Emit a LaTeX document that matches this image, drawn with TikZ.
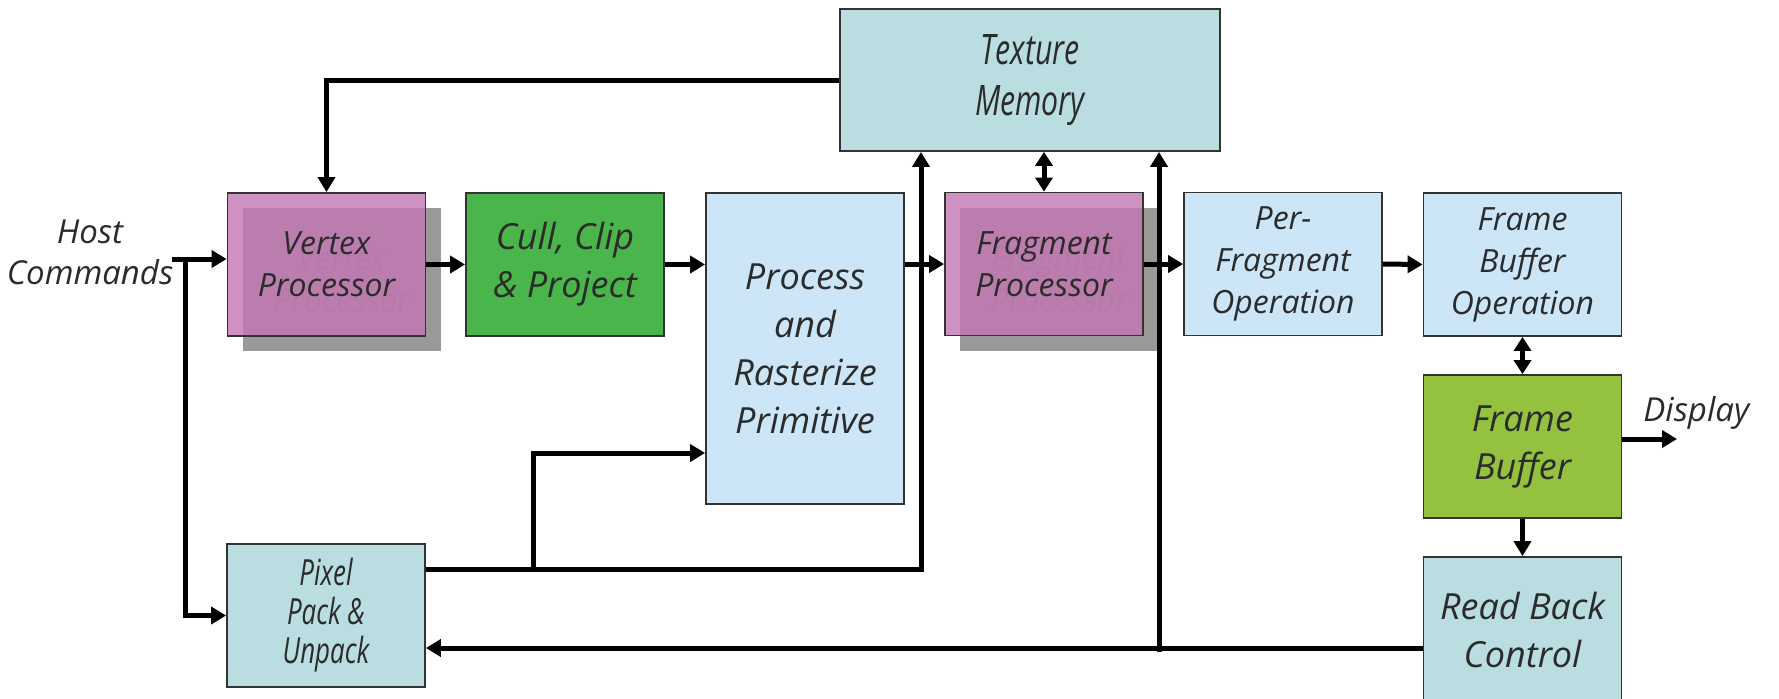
\documentclass[tikz,border=0pt]{standalone}
\usepackage{fontspec}
\usetikzlibrary{arrows.meta,calc}
\newfontfamily\hand{Open Sans}
\newfontfamily\handnarrow{Open Sans}[FakeStretch=0.72]
\definecolor{boxline}{HTML}{333333}
\definecolor{txt}{HTML}{2B2B2B}
\definecolor{pinkfill}{RGB}{195,118,178}
\definecolor{shadowgray}{RGB}{153,153,153}
\definecolor{ghosttxt}{RGB}{136,136,136}
\definecolor{cullgreen}{RGB}{74,181,74}
\definecolor{limegreen}{RGB}{148,194,62}
\definecolor{paleblue}{RGB}{204,230,247}
\definecolor{paleteal}{RGB}{186,221,226}
\tikzset{
  box/.style={draw=boxline, line width=0.9pt, minimum width=99pt,
    minimum height=71.5pt, inner sep=0pt, align=center, text=txt,
    font=\hand\itshape\fontsize{16}{21}\selectfont},
  bigtxt/.style={font=\hand\itshape\fontsize{18}{24}\selectfont},
  tealtxt/.style={font=\handnarrow\itshape\fontsize{21}{25.5}\selectfont},
  smalltealtxt/.style={font=\handnarrow\itshape\fontsize{18}{19.5}\selectfont},
  pinkbox/.style={box, fill=pinkfill, fill opacity=0.8, text opacity=1},
  shadowbox/.style={minimum width=99pt, minimum height=71.5pt, inner sep=0pt,
    align=center, fill=shadowgray, text=ghosttxt,
    font=\hand\itshape\fontsize{16}{21}\selectfont},
  greenbox/.style={box, bigtxt, fill=cullgreen},
  limebox/.style={box, bigtxt, fill=limegreen},
  bluebox/.style={box, fill=paleblue},
  tealbox/.style={box, fill=paleteal},
  label/.style={text=txt, align=center, inner sep=0pt,
    font=\hand\itshape\fontsize{16.5}{20.5}\selectfont},
  arr/.style={line width=2.5pt, -{Triangle[length=7.5pt,width=8.5pt]}},
  dblarr/.style={line width=2.5pt, {Triangle[length=7pt,width=8.5pt]}-{Triangle[length=7pt,width=8.5pt]}},
  plain/.style={line width=2.5pt}
}
\begin{document}
\begin{tikzpicture}[x=0.5pt,y=-0.5pt]
\useasboundingbox (0,0) rectangle (1779,698);

% drop shadows of the two programmable stages
\node[shadowbox] (vshadow) at (341.5,279.5) {Vertex\\Processor};
\node[shadowbox] (fshadow) at (1059,279) {Fragment\\Processor};

% pipeline stages
\node[pinkbox] (vertex) at (326.5,264.5) {Vertex\\Processor};
\node[greenbox] (cull) at (565,264.5) {Cull, Clip\\\& Project};
\node[bluebox, bigtxt, minimum height=155.5pt] (raster) at (805,348.5)
  {Process\\and\\Rasterize\\Primitive};
\node[pinkbox] (frag) at (1044,264) {Fragment\\Processor};
\node[bluebox] (perfrag) at (1283,264) {Per-\\Fragment\\Operation};
\node[bluebox] (fbop) at (1522.5,264.5) {Frame\\Buffer\\Operation};
\node[limebox] (fb) at (1522.5,446.5) {Frame\\Buffer};
\node[tealbox, bigtxt, minimum height=72.5pt] (readback) at (1522.5,629.5)
  {Read Back\\Control};
\node[tealbox, tealtxt, minimum width=190pt, minimum height=71pt] (tex)
  at (1030,80) {Texture\\Memory};
\node[tealbox, smalltealtxt] (pixel) at (326,615.5) {Pixel\\Pack \&\\Unpack};

% free labels
\node[label] (host) at (90,252) {Host\\Commands};
\node[label, anchor=west] (disp) at (1643,413) {Display};

% connection points
\coordinate (hc) at (172,259);
\coordinate (hbus) at (185,259);
\coordinate (dispend) at (1677,439);
\coordinate (pbranch) at (533,569);
\coordinate (pbus) at (921,569);
\coordinate (rbus) at (1159,652);

% main flow
\draw[arr] (hc) -- (vertex.west |- hc);
\draw[plain] (hbus) -- (hbus |- pixel.west);
\draw[arr] ($(hbus |- pixel.west)+(-2.5,0)$) -- (pixel.west);
\draw[arr] (tex.west) -| (vertex.north);
\draw[arr] (vertex.east) -- (cull.west);
\draw[arr] (cull.east) -- (raster.west |- cull.east);
\draw[arr] (raster.east |- frag.west) -- (frag.west);
\draw[arr] (frag.east) -- (perfrag.west);
\draw[arr] (perfrag.east) -- (fbop.west);
\draw[dblarr] (fbop.south) -- (fb.north);
\draw[dblarr] (frag.north) -- (frag.north |- tex.south);
\draw[arr] (fb.east |- dispend) -- (dispend);
\draw[arr] (fb.south) -- (readback.north);

% pixel paths
\draw[arr] (readback.west |- 0,648) -- (pixel.east |- 0,648);
\draw[arr] (pixel.east |- pbus) -- (pbus) -- (pbus |- tex.south);
\draw[arr] (pbranch) |- (raster.west |- 0,453);
\draw[arr] (rbus) -- (rbus |- tex.south);
\end{tikzpicture}
\end{document}
